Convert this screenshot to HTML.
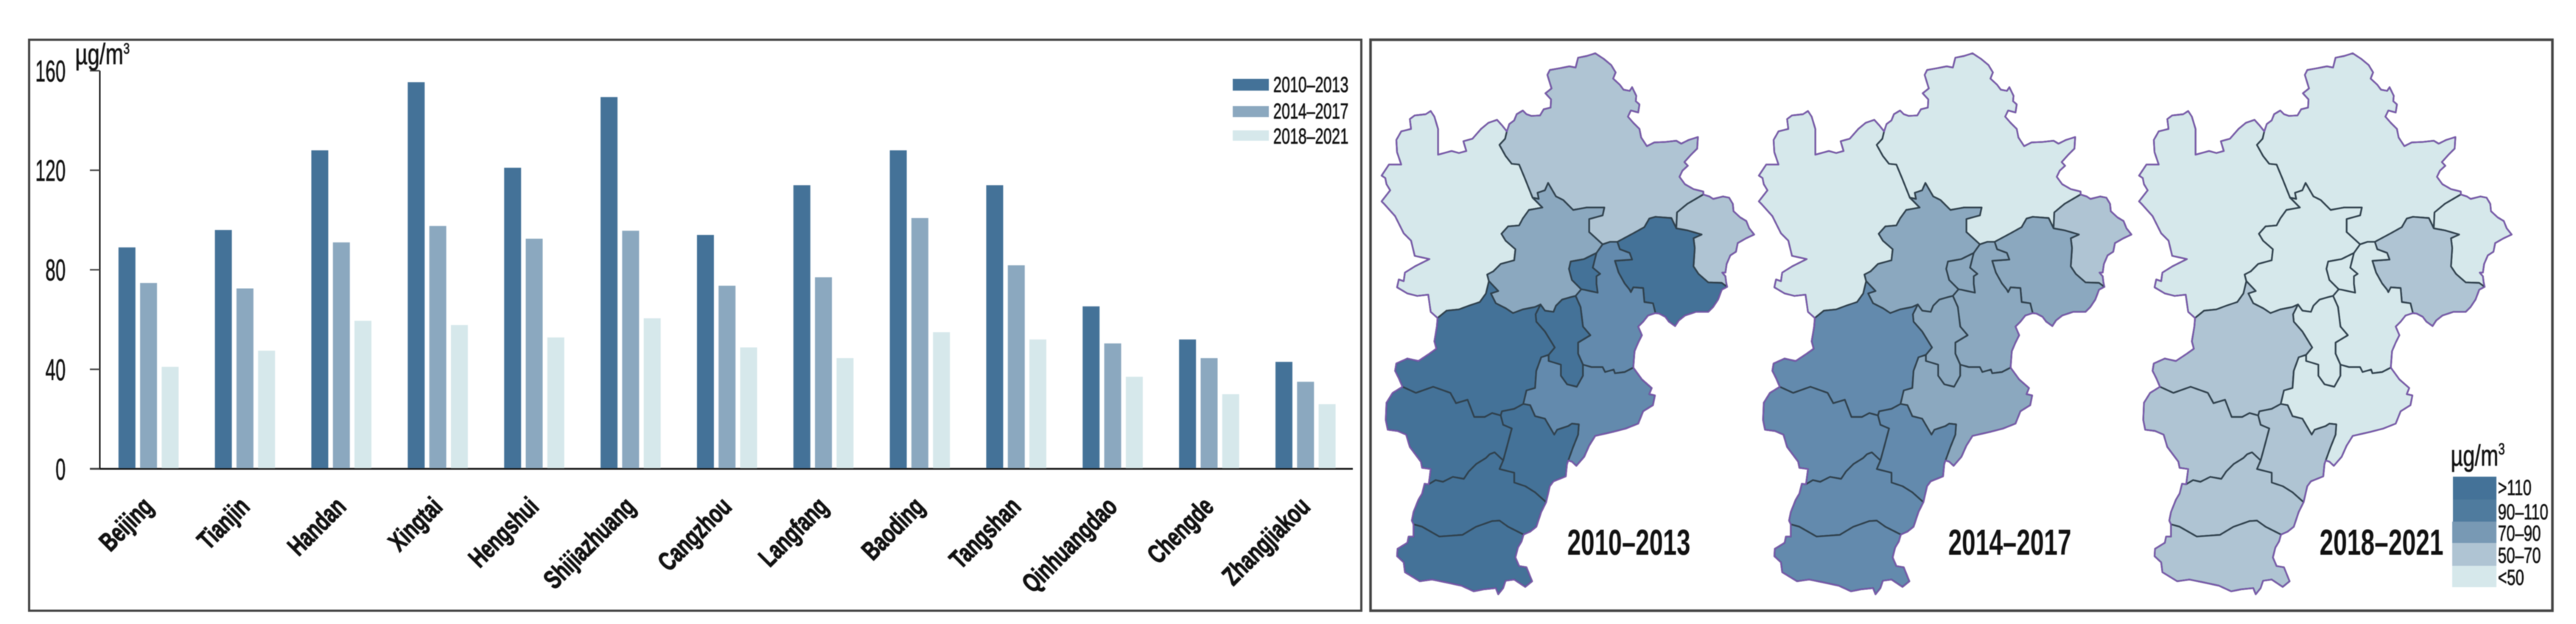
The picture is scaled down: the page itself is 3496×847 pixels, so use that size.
<!DOCTYPE html>
<html lang="en">
<head>
<meta charset="utf-8">
<title>PM concentration by city and period</title>
<style>
html,body{margin:0;padding:0;background:#fff;}
svg{display:block;filter:blur(0.6px);}
text{font-family:"Liberation Sans",sans-serif;fill:#111;}
.hv{stroke:#111;stroke-width:0.6;}
.xl{stroke:#111;stroke-width:1;}
.rg{vector-effect:non-scaling-stroke;stroke:#2f404c;stroke-width:2.2;stroke-linejoin:round;}
.ol{vector-effect:non-scaling-stroke;stroke:#7a58ad;stroke-width:2;stroke-linejoin:round;fill:none;}
</style>
</head>
<body>
<svg id="fig" xmlns="http://www.w3.org/2000/svg" width="3496" height="847" viewBox="0 0 3496 847">
  <rect x="0" y="0" width="3496" height="847" fill="#fff"/>
  <rect x="39.5" y="54" width="1808" height="775" fill="none" stroke="#444" stroke-width="3"/>
  <rect x="1860" y="54" width="1604" height="775" fill="none" stroke="#444" stroke-width="3.5"/>

  <g id="chart"></g>

  <g>
    <rect x="1673" y="107" width="49" height="16" fill="#447298"/>
    <text class="hv" transform="translate(1728,125) scale(0.68,1)" font-size="30">2010–2013</text>
    <rect x="1673" y="144" width="49" height="15" fill="#8ba8bf"/>
    <text class="hv" transform="translate(1728,161) scale(0.68,1)" font-size="30">2014–2017</text>
    <rect x="1673" y="177" width="49" height="14" fill="#d6e8eb"/>
    <text class="hv" transform="translate(1728,195) scale(0.68,1)" font-size="30">2018–2021</text>
  </g>

  <g id="maps"></g>

  <text x="2127" y="753" font-size="49" font-weight="bold" textLength="167" lengthAdjust="spacingAndGlyphs">2010–2013</text>
  <text x="2644" y="753" font-size="49" font-weight="bold" textLength="167" lengthAdjust="spacingAndGlyphs">2014–2017</text>
  <text x="3148" y="753" font-size="49" font-weight="bold" textLength="168" lengthAdjust="spacingAndGlyphs">2018–2021</text>

  <g>
    <text class="hv" transform="translate(3326,632) scale(0.72,1)" font-size="40">µg/m<tspan font-size="22" dy="-15">3</tspan></text>
    <rect x="3329" y="647" width="59" height="31" fill="#447298"/>
    <rect x="3329" y="678" width="59" height="30" fill="#4f7b9e"/>
    <rect x="3328" y="708" width="60" height="29" fill="#7899b4"/>
    <rect x="3328" y="737" width="60" height="31" fill="#afc4d3"/>
    <rect x="3328" y="768" width="60" height="29" fill="#d6e8eb"/>
    <text class="hv" transform="translate(3390,672) scale(0.7,1)" font-size="30">&gt;110</text>
    <text class="hv" transform="translate(3390,705) scale(0.7,1)" font-size="30">90–110</text>
    <text class="hv" transform="translate(3390,734) scale(0.7,1)" font-size="30">70–90</text>
    <text class="hv" transform="translate(3390,764) scale(0.7,1)" font-size="30">50–70</text>
    <text class="hv" transform="translate(3390,794) scale(0.7,1)" font-size="30">&lt;50</text>
  </g>
</svg>

<script>
const categories = ["Beijing","Tianjin","Handan","Xingtai","Hengshui","Shijiazhuang","Cangzhou","Langfang","Baoding","Tangshan","Qinhuangdao","Chengde","Zhangjiakou"];
const series2010 = [89,96,128,155.4,121,149.4,94,114,128,114,65.3,52,43];
const series2014 = [74.7,72.5,91,97.6,92.5,95.7,73.6,77,100.8,81.8,50.4,44.5,35];
const series2018 = [41,47.5,59.5,57.8,52.8,60.5,48.8,44.5,54.9,52,37,30,26];
const yTicks = [0,40,80,120,160];
const seriesColors = ["#447298","#8ba8bf","#d6e8eb"];
const binLimits = [110,90,70,50];
const binColors = ["#447298","#638aad","#8ba8bf","#afc4d3","#d6e8eb"];

const NS = "http://www.w3.org/2000/svg";
function mk(parent, tag, attrs, txt){
  const e = document.createElementNS(NS, tag);
  for (const k in attrs) e.setAttribute(k, attrs[k]);
  if (txt !== undefined) e.textContent = txt;
  parent.appendChild(e);
  return e;
}

/* axis functions */
const yBase = 636.4, pxPerUnit = 135.1/40;
const catStart = 160.8, catStep = 130.85, barStep = 29.3, barW = 23;
function yScale(v){ return yBase - v*pxPerUnit; }
function xScale(i, s){ return catStart + catStep*i + barStep*s; }

const chart = document.getElementById("chart");

const yAxis = mk(chart, "line", {x1:135.5,x2:135.5,y1:yScale(160),y2:yBase,stroke:"#111","stroke-width":2});


const xAxis = mk(chart, "line", {x1:122,x2:1836,y1:yBase,y2:yBase,stroke:"#111","stroke-width":2.5});



yTicks.forEach(t=>{
  const tick = mk(chart, "line", {x1:122,x2:135.5,y1:yScale(t),y2:yScale(t),stroke:"#444","stroke-width":2});
  
  
  const lab = mk(chart, "text", {"class":"hv",transform:`translate(89,${yScale(t)+14.5}) scale(0.6,1)`,"text-anchor":"end","font-size":41}, String(t));
  
  
});

const unit = mk(chart, "text", {"class":"hv",transform:"translate(102,87) scale(0.73,1)","font-size":40});


unit.appendChild(document.createTextNode("µg/m"));
mk(unit, "tspan", {"font-size":21,dy:-14}, "3");

[series2010, series2014, series2018].forEach((vals, s)=>{
  vals.forEach((v, i)=>{
    const bar = mk(chart, "rect", {x:xScale(i,s),y:yScale(v),width:barW,height:yBase-1-yScale(v),fill:seriesColors[s]});
    
    
  });
});

categories.forEach((c, i)=>{
  const lab = mk(chart, "text", {"class":"xl",transform:`translate(${xScale(i,0)+49},690) rotate(-45) scale(0.71,1)`,"text-anchor":"end","font-size":36,"font-weight":"bold"}, c);
  
  
});

/* map geometry: traced shared borders, joined into rings below */
const seg = {
 oCh:"525,355 535,325 555,310 565,285 590,270 605,285 625,292 660,290 675,265 703,258 705,225 682,200 707,180 690,125 700,105 745,97 780,90 805,95 815,55 850,48 885,37 920,60 950,85 968,115 958,140 985,165 1000,185 1025,190 1035,175 1052,210 1050,232 1065,245 1060,278 1030,270 1018,295 1040,320 1065,345 1072,380 1095,415 1125,400 1170,398 1215,393 1235,405 1265,390 1303,378 1300,425 1275,450 1248,480 1262,495 1240,515 1228,540 1250,570 1285,590 1325,600 1325,612",
 oQ:"1325,612 1350,620 1365,630 1405,620 1430,625 1445,650 1448,680 1475,705 1500,720 1512,750 1532,775 1500,790 1465,810 1458,845 1435,860 1420,895 1415,930 1402,930 1415,945 1418,970 1422,988",
 oTs:"1422,988 1400,1000 1385,1040 1365,1070 1345,1090 1295,1090 1250,1105 1225,1125 1210,1148 1185,1130 1170,1110 1145,1097 1130,1095",
 oTj:"1130,1095 1100,1105 1080,1130 1060,1150 1075,1185 1060,1215 1045,1250 1040,1317",
 oCz:"1040,1317 1075,1365 1115,1400 1105,1425 1128,1430 1120,1470 1080,1495 1060,1545 1010,1565 960,1578 885,1595 860,1635 840,1680 808,1717 790,1700 775,1695",
 oHs:"775,1695 770,1710 765,1760 715,1780 700,1800 685,1865",
 oXt:"685,1865 665,1905 645,1965 620,1985 593,1997",
 oHd:"593,1997 585,2025 570,2050 560,2090 575,2125 605,2130 628,2187 600,2210 555,2180 520,2185 510,2215 490,2240 480,2215 430,2220 390,2228 340,2205 270,2190 220,2180 170,2187 110,2150 105,2110 78,2085 80,2055 120,2030 125,2005 145,2005 145,1955",
 oXw:"145,1955 138,1940 145,1905 165,1855 180,1830 190,1790 207,1792",
 oSj:"207,1792 215,1730 180,1725 175,1700 130,1640 115,1590 80,1575 40,1570 32,1530 35,1460 60,1420 100,1395",
 oBd:"100,1395 85,1360 70,1330 75,1300 120,1280 165,1290 210,1260 238,1240 230,1210 240,1150 243,1115",
 oZj:"243,1115 215,1090 205,1020 160,1025 120,1015 78,990 85,958 105,965 110,930 150,905 210,875 150,862 135,800 105,770 70,700 25,650 15,640 50,595 35,570 30,545 15,535 45,490 95,490 78,440 75,390 95,355 135,345 130,305 150,290 195,285 215,272 230,295 245,345 245,450 300,435 330,443 360,435 348,395 385,385 420,345 450,320 485,308 505,330 525,355",
 iZCh:"525,355 518,385 495,410 520,455 545,487 575,490 600,550 630,625",
 iChB:"630,625 655,630 650,605 680,595 693,565 725,620 755,635 795,675 850,665 922,665 915,697 860,712 860,765 915,815",
 iZB:"630,625 670,665 615,675 590,710 575,738 530,742 503,772 520,800 560,835 555,880 500,895 470,925 445,938 452,965",
 iZBd:"452,965 440,1015 415,1050 370,1065 330,1080 280,1085 243,1115",
 iBBd:"452,965 490,1005 460,1015 480,1055 520,1075 550,1095 590,1080 640,1070 662,1060",
 iBLs:"662,1060 680,1085 715,1090 725,1065 750,1040 785,1030 805,1025",
 iBT1:"805,1025 828,998",
 iBLn:"828,998 790,960 778,915 785,885 840,875 890,850",
 iBT2:"890,850 915,815",
 iChT:"915,815 945,805 975,805",
 iChTs:"975,805 1040,770 1085,745 1105,710 1130,703 1195,708 1215,750",
 iChQ:"1215,750 1218,685 1260,650 1325,612",
 iQTs:"1215,750 1260,758 1318,775 1285,790 1290,830 1285,905 1305,935 1345,970 1400,972 1422,988",
 iTTs:"975,805 985,835 1025,850 1035,877 965,882 980,930 1005,975 1025,1000 1030,1010 1040,990 1080,993 1085,1050 1120,1055 1130,1095",
 iLnT:"890,850 875,910 905,935 890,945 890,975 895,1012 840,1000 828,998",
 iLsT:"805,1025 825,1070 830,1110 835,1150 865,1185 815,1215 815,1260 835,1305",
 iLsBd:"662,1060 642,1100 645,1130 680,1170 720,1235 695,1265",
 iLsCz:"695,1265 695,1290 745,1305 745,1350 770,1385 810,1395 835,1350 835,1305",
 iTCz:"835,1305 870,1315 915,1315 925,1335 960,1325 965,1340 1005,1335 1040,1317",
 iBdCz:"695,1265 665,1275 645,1330 640,1400 605,1410 592,1465",
 iHsCz:"592,1465 620,1470 640,1515 680,1525 718,1590 730,1570 775,1555 790,1545 818,1548 815,1590 795,1640 775,1695",
 iBdHs:"592,1465 555,1485 505,1495 500,1512",
 iBdSj:"500,1512 465,1502 435,1518 392,1518 365,1448 318,1462 295,1420 225,1395 155,1420 100,1395",
 iSjHs:"500,1512 510,1550 545,1565 525,1640 510,1695",
 iSjXt:"510,1695 475,1662 455,1670 440,1685 400,1710 370,1740 350,1770 305,1762 265,1782 235,1775 207,1792",
 iHsXt:"510,1695 495,1730 555,1745 555,1785 600,1800 640,1825 685,1865",
 iXtHd:"145,1955 180,1965 250,2005 345,1998 400,1965 465,1942 495,1940 530,1965 593,1997"
};
const regionRings = [
 ["Zhangjiakou",["oZj","iZCh","iZB","iZBd"]],
 ["Chengde",["oCh","-iChQ","-iChTs","-iChT","-iChB","-iZCh"]],
 ["Qinhuangdao",["oQ","-iQTs","iChQ"]],
 ["Tangshan",["iChTs","iQTs","oTs","-iTTs"]],
 ["Beijing",["iChB","-iBT2","-iBLn","-iBT1","-iBLs","-iBBd","-iZB"]],
 ["Langfang",["iBLn","iLnT"]],
 ["Tianjin",["iChT","iTTs","oTj","-iTCz","-iLsT","iBT1","-iLnT","iBT2"]],
 ["Langfang",["iBLs","iLsT","-iLsCz","-iLsBd"]],
 ["Baoding",["-iZBd","iBBd","iLsBd","iBdCz","iBdHs","iBdSj","oBd"]],
 ["Cangzhou",["iTCz","oCz","-iHsCz","-iBdCz","iLsCz"]],
 ["Hengshui",["iHsCz","oHs","-iHsXt","-iSjHs","-iBdHs"]],
 ["Shijiazhuang",["-iBdSj","iSjHs","iSjXt","oSj"]],
 ["Xingtai",["-iSjXt","iHsXt","oXt","-iXtHd","oXw"]],
 ["Handan",["iXtHd","oHd"]]
];
const outerRing = ["oCh","oQ","oTs","oTj","oCz","oHs","oXt","oHd","oXw","oSj","oBd","oZj"];

function ring(list){
  return list.map(n=>{
    const rev = n[0]==="-";
    const pts = seg[rev?n.slice(1):n].split(" ");
    return (rev?pts.reverse():pts).join(" ");
  }).join(" ");
}
function binColor(v){
  for (let b = 0; b < binLimits.length; b++) if (v > binLimits[b]) return binColors[b];
  return binColors[binColors.length-1];
}

const maps = document.getElementById("maps");
[[series2010,0,"map-2010-2013"],[series2014,512,"map-2014-2017"],[series2018,1028,"map-2018-2021"]].forEach(cfg=>{
  const g = mk(maps, "g", {transform:`translate(${1870+cfg[1]},60) scale(0.33333)`});
  
  
  regionRings.forEach(r=>{
    const p = mk(g, "polygon", {points:ring(r[1]),"class":"rg",fill:binColor(cfg[0][categories.indexOf(r[0])])});
    
    
  });
  const o = mk(g, "polygon", {points:ring(outerRing),"class":"ol"});
  
  
});
</script>
</body>
</html>
